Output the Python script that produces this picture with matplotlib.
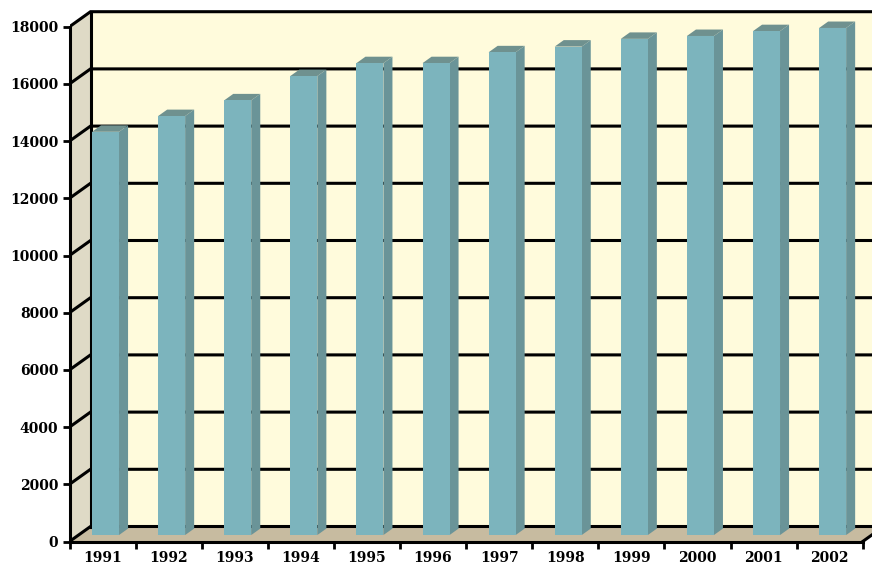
import matplotlib.pyplot as plt
from matplotlib.patches import Polygon

# Donnees du graphique
annees = ["1991", "1992", "1993", "1994", "1995", "1996",
          "1997", "1998", "1999", "2000", "2001", "2002"]
valeurs = [14100, 14650, 15200, 16050, 16500, 16500,
           16880, 17080, 17350, 17450, 17620, 17730]
graduations = list(range(0, 18001, 2000))

# Couleurs
c_fond = "#FFFBDC"
c_mur = "#DFDAC6"
c_sol = "#C7BBA0"
c_face = "#7CB4BD"
c_cote = "#6A9498"
c_haut = "#6F918F"

# Projection oblique (profondeur d entre 0 et 1)
DX = 21 / 66.1          # decalage horizontal en categories
DV = 15 / 0.0286        # decalage vertical en unites de valeur
vmax = 18000
n = len(annees)


def proj(x, v, d):
    return (x + d * DX, v + d * DV)


fig = plt.figure(figsize=(8.72, 5.66), dpi=100)
ax = fig.add_axes([69.5 / 872, (566 - 541.5) / 566, (872 - 69.5) / 872, 541.5 / 566])
ax.set_xlim(0, (872 - 69.5) / 66.1)
ax.set_ylim(0, 541.5 / 0.0286)
ax.patch.set_visible(False)

lw = 2.2

# Mur du fond
mur_fond = [proj(0, 0, 1), proj(n, 0, 1), proj(n, vmax, 1), proj(0, vmax, 1)]
ax.add_patch(Polygon(mur_fond, closed=True, facecolor=c_fond, edgecolor="none", zorder=1))
# Mur de gauche
mur_gauche = [proj(0, 0, 0), proj(0, 0, 1), proj(0, vmax, 1), proj(0, vmax, 0)]
ax.add_patch(Polygon(mur_gauche, closed=True, facecolor=c_mur, edgecolor="none", zorder=1))
# Sol
sol = [proj(0, 0, 0), proj(n, 0, 0), proj(n, 0, 1), proj(0, 0, 1)]
ax.add_patch(Polygon(sol, closed=True, facecolor=c_sol, edgecolor="none", zorder=1))

# Quadrillage (mur du fond + mur de gauche)
for g in graduations:
    p0 = proj(0, g, 0)
    p1 = proj(0, g, 1)
    p2 = proj(n, g, 1)
    ax.plot([p0[0], p1[0], p2[0]], [p0[1], p1[1], p2[1]], color="black", lw=lw,
            solid_joinstyle="miter", zorder=2)
# arete verticale du coin
a = proj(0, 0, 1)
b = proj(0, vmax, 1)
ax.plot([a[0], b[0]], [a[1], b[1]], color="black", lw=lw, zorder=2)
# bord droit du sol
a = proj(n, 0, 0)
b = proj(n, 0, 1)
ax.plot([a[0], b[0]], [a[1], b[1]], color="black", lw=lw, zorder=2)

# Barres 3D
d0, d1 = 0.43, 0.86
larg = 27 / 66.1
for i, v in enumerate(valeurs):
    xc = i + 0.5 + 0.045 - d0 * DX
    x0, x1 = xc - larg / 2, xc + larg / 2
    face = [proj(x0, 0, d0), proj(x1, 0, d0), proj(x1, v, d0), proj(x0, v, d0)]
    cote = [proj(x1, 0, d0), proj(x1, 0, d1), proj(x1, v, d1), proj(x1, v, d0)]
    haut = [proj(x0, v, d0), proj(x1, v, d0), proj(x1, v, d1), proj(x0, v, d1)]
    ax.add_patch(Polygon(cote, closed=True, facecolor=c_cote, edgecolor="none", zorder=3))
    ax.add_patch(Polygon(haut, closed=True, facecolor=c_haut, edgecolor="none", zorder=3))
    ax.add_patch(Polygon(face, closed=True, facecolor=c_face, edgecolor="none", zorder=4))

# Axes
for s in ["top", "right"]:
    ax.spines[s].set_visible(False)
ax.spines["left"].set_bounds(0, vmax)
ax.spines["bottom"].set_bounds(0, n)
for s in ["left", "bottom"]:
    ax.spines[s].set_linewidth(lw)
    ax.spines[s].set_zorder(5)

police = dict(family="DejaVu Serif", weight="bold", size=10)
ax.set_yticks(graduations)
ax.set_yticklabels([str(g) for g in graduations], fontdict=police)
ax.set_xticks(range(n + 1))
ax.set_xticklabels([])
ax.set_xticks([i + 0.5 for i in range(n)], minor=True)
ax.set_xticklabels(annees, minor=True, fontdict=police)
ax.tick_params(axis="y", direction="out", length=5, width=2, pad=3)
ax.tick_params(axis="x", which="major", direction="out", length=5, width=2)
ax.tick_params(axis="x", which="minor", length=0, pad=7)

fig.savefig("out.png", dpi=100)
